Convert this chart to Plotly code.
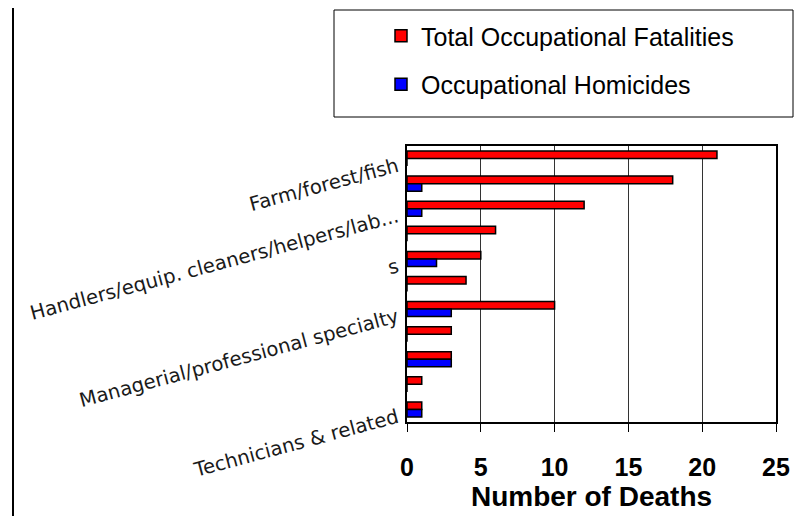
import plotly.graph_objects as go

categories = [
    "Farm/forest/fish",
    "Precision production/craft/repair",
    "Handlers/equip. cleaners/helpers/lab...",
    "Transportation/material moving",
    "Machine operators/assemblers/inspectors",
    "Protective service",
    "Managerial/professional specialty",
    "Sales",
    "Service (exc. protective)",
    "Administrative support",
    "Technicians & related",
]
total_fatalities = [21, 18, 12, 6, 5, 4, 10, 3, 3, 1, 1]
homicides = [0, 1, 1, 0, 2, 0, 3, 0, 3, 0, 1]

# category labels that are visible on the chart (index into categories, shown text)
label_index = [0, 2, 4, 6, 10]
label_texts = ["Farm/forest/fish", "Handlers/equip. cleaners/helpers/lab...", "s",
               "Managerial/professional specialty", "Technicians & related"]

x_ticks = [0, 5, 10, 15, 20, 25]

# the page body has an 8px margin; figure is sized to fill the rest of the window
OFF = 8
W, H = 803 - OFF, 516 - OFF
L, R, T, B = 399, 27, 138, 94
PW, PH = W - L - R, H - T - B
LABEL_SHIFT = 0.25  # rotated labels sit slightly below their category centre


def px_x(p):  # page pixel -> paper x
    return (p - OFF - L) / PW


def px_y(p):  # page pixel -> paper y
    return (OFF + H - B - p) / PH


fig = go.Figure()
fig.add_trace(go.Bar(
    y=categories, x=total_fatalities, orientation="h",
    name="Total Occupational Fatalities",
    marker=dict(color="#FF0000", line=dict(color="#000000", width=1.5)),
    legendgroup="a",
))
fig.add_trace(go.Bar(
    y=categories, x=homicides, orientation="h",
    name="Occupational Homicides",
    marker=dict(color="#0000FF", line=dict(color="#000000", width=1.5)),
    legendgroup="b",
))

fig.update_layout(
    width=W, height=H,
    margin=dict(l=L, r=R, t=T, b=B, pad=0, autoexpand=False),
    paper_bgcolor="white", plot_bgcolor="white",
    barmode="group", bargap=0.4, bargroupgap=0,
    font=dict(family="Liberation Sans, Arial, sans-serif", color="#000"),
    legend=dict(
        x=px_x(381), xanchor="left", y=px_y(13), yanchor="top",
        font=dict(size=25, family="Liberation Sans, Arial, sans-serif", color="#000"),
        bgcolor="rgba(0,0,0,0)", borderwidth=0,
        traceorder="grouped", tracegroupgap=13,
    ),
    xaxis=dict(
        range=[0, 25], tickvals=x_ticks, ticktext=[str(v) for v in x_ticks],
        showgrid=True, gridcolor="#333333", gridwidth=1,
        showline=True, linecolor="#000", linewidth=1.5, mirror=True,
        ticks="outside", ticklen=8, tickcolor="#000", tickwidth=1,
        tickfont=dict(size=25, family="Liberation Sans, Arial, sans-serif", weight="bold", color="#000"),
        ticklabelstandoff=14,
        zeroline=False,
        title=dict(text="Number of Deaths", standoff=5,
                   font=dict(size=28, family="Liberation Sans, Arial, sans-serif", weight="bold", color="#000")),
    ),
    yaxis=dict(
        autorange="reversed", type="category",
        tickmode="array",
        tickvals=[i + LABEL_SHIFT for i in label_index], ticktext=label_texts,
        tickangle=-15,
        tickfont=dict(size=19.7, family="DejaVu Sans, sans-serif", color="#1a1a1a"),
        ticklabelstandoff=4,
        showline=True, linecolor="#000", linewidth=1.5, mirror=True,
        showgrid=False, ticks="", zeroline=False,
    ),
    shapes=[
        dict(type="rect", xref="paper", yref="paper",
             x0=px_x(334), x1=px_x(793), y0=px_y(117), y1=px_y(10),
             line=dict(color="#000", width=1), fillcolor="rgba(0,0,0,0)"),
        dict(type="line", xref="paper", yref="paper",
             x0=px_x(13), x1=px_x(13), y0=px_y(516), y1=px_y(0),
             line=dict(color="#000", width=2)),
        dict(type="line", xref="paper", yref="paper",
             x0=px_x(796.5), x1=px_x(796.5), y0=px_y(516), y1=px_y(0),
             line=dict(color="#000", width=1.5)),
    ],
)

fig.write_html("out.html")
